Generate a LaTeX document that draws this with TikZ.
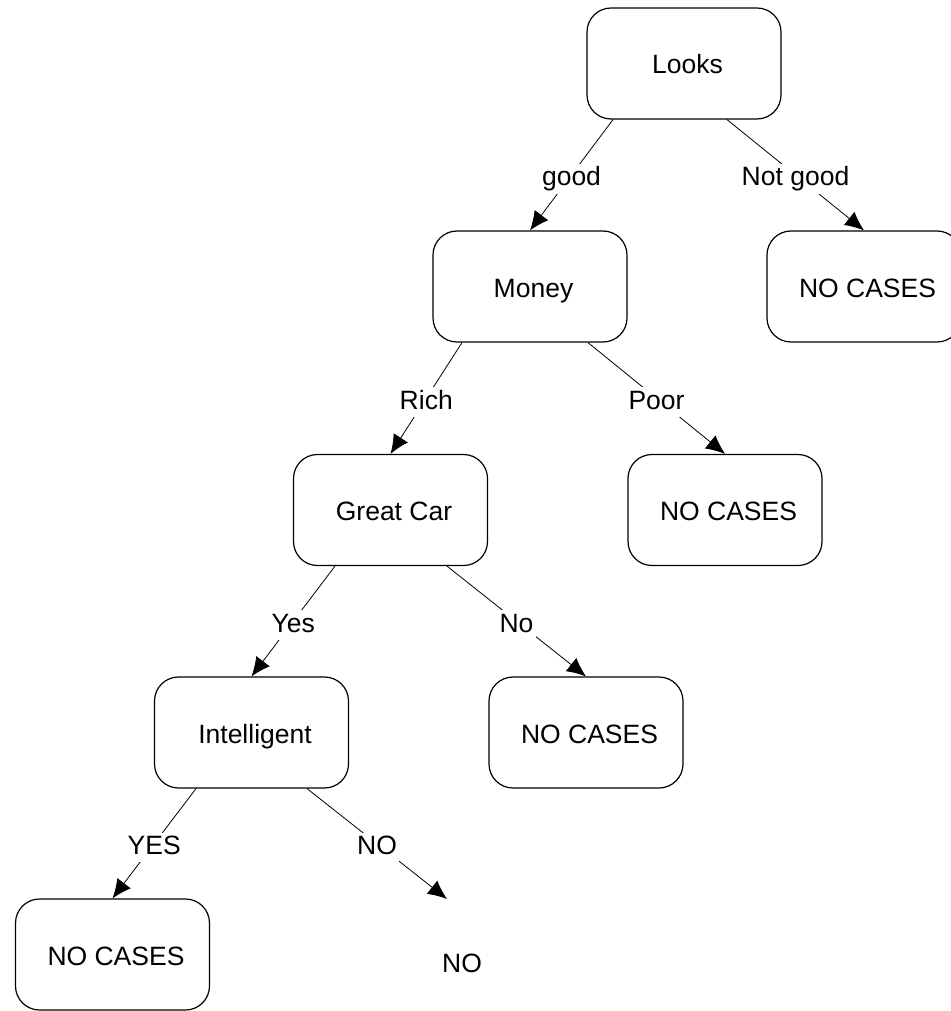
\documentclass[tikz,border=0pt]{standalone}
\usepackage{fontspec}
\setmainfont{Liberation Sans}
\usetikzlibrary{arrows.meta,calc}
\begin{document}
\begin{tikzpicture}[x=1pt,y=-1pt,
  font=\fontsize{26.5}{31}\selectfont,
  box/.style={draw, rounded corners=24pt, minimum width=194pt, minimum height=111pt,
    inner sep=0pt, line width=1.2pt, text height=21pt, text depth=0pt,
    execute at begin node={\hspace*{7pt}}},
  branch/.style={draw, line width=0.8pt, -{Latex[length=19pt,width=17pt]}},
  edgelabel/.style={fill=white, inner sep=2.5pt, text height=19.3pt, text depth=5.6pt, yshift=-4pt}]
\useasboundingbox (0,0) rectangle (950,1011);
\fill[white] (0,0) rectangle (950,1011);

% decision boxes
\node[box] (looks) at (684,63.5) {Looks};
\node[box] (money) at (530,286.5) {Money};
\node[box] (nc1) at (864,286.5) {NO CASES};
\node[box] (great) at (390.5,510) {Great Car};
\node[box] (nc2) at (725,510) {NO CASES};
\node[box] (intel) at (251.5,732.5) {Intelligent};
\node[box] (nc3) at (586,732.5) {NO CASES};
\node[box] (nc4) at (112.5,954.5) {NO CASES};
\node[text height=19.3pt, text depth=0pt] (noleaf) at (462,963) {NO};
\coordinate (noend) at (447,899);

% branches
\draw[branch] ($(looks.south)+(-71,0)$) -- node[edgelabel] (l1) {good} (money.north);
\draw[branch] ($(looks.south)+(43,0)$) -- node[edgelabel] (l2) {Not good} (nc1.north);
\draw[branch] ($(money.south)+(-68,0)$) -- node[edgelabel] (l3) {Rich} (great.north);
\draw[branch] ($(money.south)+(58,0)$) -- node[edgelabel] (l4) {Poor} (nc2.north);
\draw[branch] ($(great.south)+(-55.5,0)$) -- node[edgelabel] (l5) {Yes} (intel.north);
\draw[branch] ($(great.south)+(56.5,0)$) -- node[edgelabel] (l6) {No} (nc3.north);
\draw[branch] ($(intel.south)+(-55.5,0)$) -- node[edgelabel] (l7) {YES} (nc4.north);
\draw[branch] ($(intel.south)+(55.5,0)$) -- node[edgelabel] (l8) {NO} (noend);
\end{tikzpicture}
\end{document}
